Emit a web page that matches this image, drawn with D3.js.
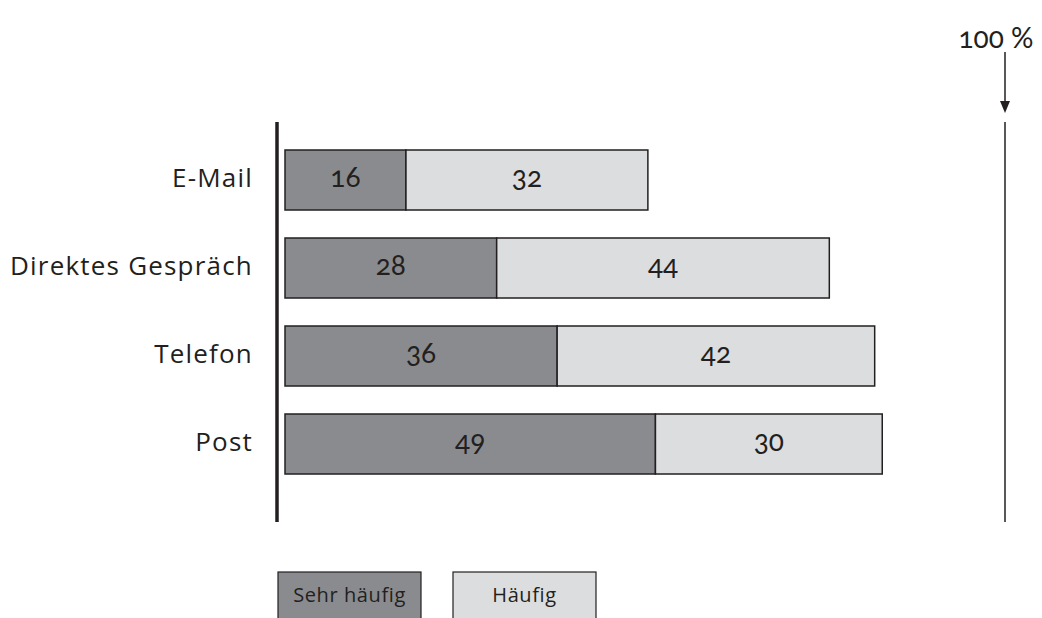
<!DOCTYPE html>
<html><head><meta charset="utf-8">
<script src="https://cdn.jsdelivr.net/npm/d3@7"></script>
<style>
html,body{margin:0;padding:0;background:#fff;}
svg text{font-family:"Open Sans",Lato,sans-serif;fill:#231f20;}
svg text.num{font-family:Lato,sans-serif;font-variant-numeric:oldstyle-nums;font-feature-settings:"onum" 1;}
</style></head><body>
<svg id="chart" width="1042" height="618"></svg>
<script>
const categories = ["E-Mail", "Direktes Gespräch", "Telefon", "Post"];
const sehrHaeufig = [16, 28, 36, 49];
const haeufig = [32, 44, 42, 30];
const seriesNames = ["Sehr häufig", "Häufig"];
const seriesColors = ["#8a8b8e", "#dcdddf"];
const topLabel = "100 %";

const svg = d3.select("#chart");
const x = d3.scaleLinear().domain([0, 100]).range([285, 1041]);
const y = d3.scaleBand().domain(categories).range([136, 488]).paddingInner(28/88).paddingOuter(14/88);

const rows = categories.map((c, i) => ({cat: c, segs: [
  {s: 0, v: sehrHaeufig[i], k: 0},
  {s: sehrHaeufig[i], v: haeufig[i], k: 1}
]}));

const g = svg.append("g");
rows.forEach(r => {
  r.segs.forEach(s => {
    g.append("rect")
      .attr("x", x(s.s)).attr("y", y(r.cat))
      .attr("width", x(s.s + s.v) - x(s.s)).attr("height", y.bandwidth())
      .attr("fill", seriesColors[s.k]).attr("stroke", "#231f20").attr("stroke-width", 1.5);
    g.append("text").attr("class", "num")
      .attr("x", (x(s.s) + x(s.s + s.v)) / 2).attr("y", y(r.cat) + y.bandwidth()/2)
      .attr("text-anchor", "middle").attr("dominant-baseline", "middle")
      .attr("font-size", 28).text(s.v);
  });
  g.append("text")
    .attr("x", 253).attr("y", y(r.cat) + y.bandwidth()/2)
    .attr("text-anchor", "end").attr("dominant-baseline", "middle")
    .attr("font-size", 26).attr("letter-spacing", 1.2).text(r.cat);
});

// axis line
svg.append("line").attr("x1", 277).attr("x2", 277).attr("y1", 122).attr("y2", 522)
  .attr("stroke", "#231f20").attr("stroke-width", 3.5);

// 100% marker
const hx = 1005;
svg.append("line").attr("x1", hx).attr("x2", hx).attr("y1", 122).attr("y2", 522)
  .attr("stroke", "#231f20").attr("stroke-width", 1.5);
svg.append("line").attr("x1", hx).attr("x2", hx).attr("y1", 52).attr("y2", 103)
  .attr("stroke", "#231f20").attr("stroke-width", 1.5);
svg.append("path").attr("d", `M${hx-5},101 L${hx+5},101 L${hx},113 Z`).attr("fill", "#231f20");
svg.append("text").attr("class", "num").attr("x", 996).attr("y", 41).attr("text-anchor", "middle")
  .attr("dominant-baseline", "middle").attr("font-size", 28).text(topLabel);

// legend
const lx = [278, 453];
seriesNames.forEach((n, i) => {
  svg.append("rect").attr("x", lx[i]).attr("y", 572).attr("width", 143).attr("height", 60)
    .attr("fill", seriesColors[i]).attr("stroke", "#231f20").attr("stroke-width", 1.2);
  svg.append("text").attr("x", lx[i] + 71.5).attr("y", 597).attr("text-anchor", "middle")
    .attr("dominant-baseline", "middle").attr("font-size", 20).attr("letter-spacing", 0.6).text(n);
});
</script></body></html>
